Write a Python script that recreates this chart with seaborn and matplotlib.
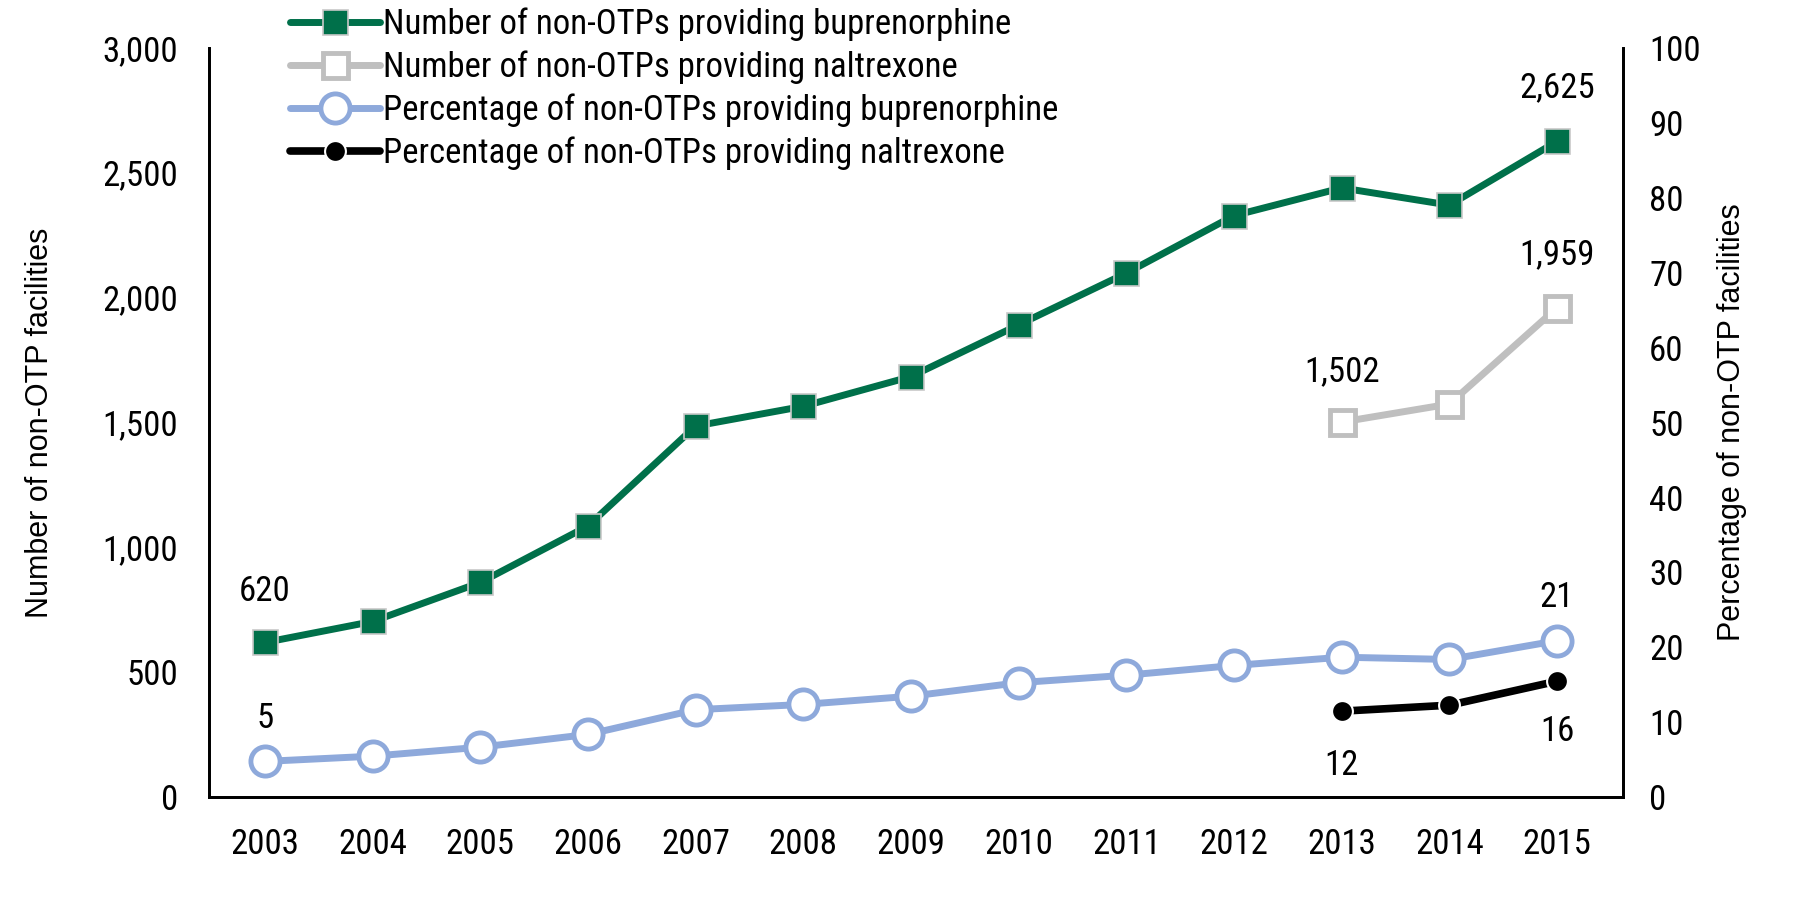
import matplotlib
matplotlib.use('Agg')
import matplotlib.pyplot as plt
import pandas as pd
import seaborn as sns

# Data
years = [2003, 2004, 2005, 2006, 2007, 2008, 2009, 2010, 2011, 2012, 2013, 2014, 2015]
num_bup = [620, 704, 860, 1086, 1486, 1565, 1684, 1891, 2098, 2328, 2439, 2370, 2625]
years_nal = [2013, 2014, 2015]
num_nal = [1502, 1574, 1959]
pct_bup = [4.8, 5.5, 6.7, 8.4, 11.7, 12.4, 13.5, 15.3, 16.3, 17.6, 18.7, 18.4, 20.9]
pct_nal = [11.5, 12.3, 15.5]

left_ticks = [0, 500, 1000, 1500, 2000, 2500, 3000]
right_ticks = [0, 10, 20, 30, 40, 50, 60, 70, 80, 90, 100]

green = '#00704A'
gray = '#BFBFBF'
blue = '#8EA9DB'

sns.set_style('white')
plt.rcParams['font.family'] = ['Roboto Condensed', 'DejaVu Sans']
plt.rcParams['text.color'] = 'black'
plt.rcParams['axes.labelcolor'] = 'black'

df_bup = pd.DataFrame({'year': years, 'num': num_bup, 'pct': pct_bup})
df_nal = pd.DataFrame({'year': years_nal, 'num': num_nal, 'pct': pct_nal})

fig = plt.figure(figsize=(18.01, 9), dpi=100)
ax = fig.add_axes([0.116, 0.114, 0.785, 0.833])
ax2 = ax.twinx()

sns.lineplot(x='year', y='num', data=df_bup, ax=ax, color=green, linewidth=5, marker='s',
             markersize=18, markeredgecolor='#c8c8c8', markeredgewidth=1.2,
             label='Number of non-OTPs providing buprenorphine', legend=False)
sns.lineplot(x='year', y='num', data=df_nal, ax=ax, color=gray, linewidth=5, marker='s',
             markersize=18, markerfacecolor='white', markeredgecolor=gray, markeredgewidth=3.5,
             label='Number of non-OTPs providing naltrexone', legend=False)
sns.lineplot(x='year', y='pct', data=df_bup, ax=ax2, color=blue, linewidth=5, marker='o',
             markersize=21, markerfacecolor='white', markeredgecolor=blue, markeredgewidth=3.5,
             label='Percentage of non-OTPs providing buprenorphine', legend=False)
sns.lineplot(x='year', y='pct', data=df_nal, ax=ax2, color='black', linewidth=5.5, marker='o',
             markersize=15, markeredgecolor='white', markeredgewidth=1.5,
             label='Percentage of non-OTPs providing naltrexone', legend=False)

fs = 25
ax.set_xlim(2002.48, 2015.61)
ax.set_ylim(0, 3000)
ax2.set_ylim(0, 100)
ax.set_xticks(years)
ax.set_xticklabels([str(y) for y in years], fontsize=fs)
ax.set_yticks(left_ticks)
ax.set_yticklabels([f'{v:,}' for v in left_ticks], fontsize=fs)
ax2.set_yticks(right_ticks)
ax2.set_yticklabels([str(v) for v in right_ticks], fontsize=fs)
ax.tick_params(axis='x', length=0, pad=22, colors='black')
ax.tick_params(axis='y', length=0, pad=22, colors='black')
ax2.tick_params(axis='y', length=0, pad=19, colors='black')
ax.set_xlabel('')
ax.set_ylabel('Number of non-OTP facilities', fontsize=22, family='Liberation Sans',
              color='black', labelpad=34)
ax2.set_ylabel('Percentage of non-OTP facilities', fontsize=22, family='Liberation Sans',
               color='black', labelpad=12)

for a in (ax, ax2):
    a.spines['top'].set_visible(False)
    for s in ('left', 'right', 'bottom'):
        a.spines[s].set_color('black')
        a.spines[s].set_linewidth(2)
    a.grid(False)

# data labels
def lab(a, text, x, y, dy):
    a.annotate(text, (x, y), xytext=(0, dy), textcoords='offset points',
               ha='center', va='center', fontsize=fs)

lab(ax, '620', years[0], num_bup[0], 37)
lab(ax, '2,625', years[-1], num_bup[-1], 39)
lab(ax, '1,502', years_nal[0], num_nal[0], 36)
lab(ax, '1,959', years_nal[-1], num_nal[-1], 38)
lab(ax2, '5', years[0], pct_bup[0], 31)
lab(ax2, '21', years[-1], pct_bup[-1], 31)
lab(ax2, '12', years_nal[0], pct_nal[0], -39)
lab(ax2, '16', years_nal[-1], pct_nal[-1], -36)

h1, l1 = ax.get_legend_handles_labels()
h2, l2 = ax2.get_legend_handles_labels()
ax.legend(h1 + h2, l1 + l2, loc='upper left', bbox_to_anchor=(0.035, 1.095), frameon=False,
          fontsize=fs, handlelength=2.6, handletextpad=0.1, labelspacing=0.27)

fig.savefig('out.png', dpi=100)
